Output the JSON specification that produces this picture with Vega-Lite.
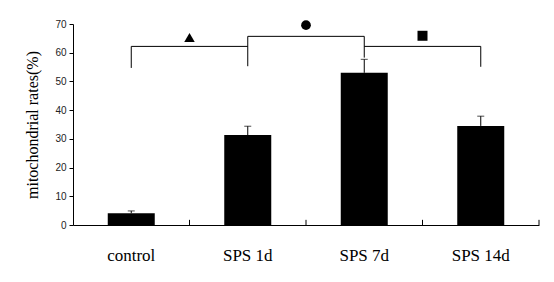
{
  "$schema": "https://vega.github.io/schema/vega-lite/v6.json",
  "width": 466,
  "height": 201,
  "autosize": "none",
  "padding": {"left": 73, "top": 24, "right": 15, "bottom": 57},
  "background": "white",
  "config": {
    "view": {"stroke": null},
    "axis": {"grid": false, "domainColor": "black", "tickColor": "black"},
    "axisX": {
      "labelFont": "Liberation Serif", "labelFontSize": 17, "labelColor": "black", "ticks": false,
      "labelPadding": 22, "labelAngle": 0, "labelBaseline": "top"
    },
    "axisY": {
      "titleFont": "Liberation Serif", "titleFontSize": 16, "titleFontWeight": "normal", "titleColor": "black",
      "titlePadding": 14, "labelFont": "Liberation Sans", "labelFontSize": 10, "labelColor": "#222",
      "labelPadding": 3, "tickSize": 4, "labelOverlap": false
    }
  },
  "datasets": {
    "bars": [
      {"group": "control", "value": 4.1, "upper": 4.9},
      {"group": "SPS 1d", "value": 31.3, "upper": 34.4},
      {"group": "SPS 7d", "value": 53.0, "upper": 57.7},
      {"group": "SPS 14d", "value": 34.5, "upper": 37.9}
    ],
    "hlines": [
      {"group": "control", "group2": "SPS 1d", "y": 62.2},
      {"group": "SPS 1d", "group2": "SPS 7d", "y": 65.7},
      {"group": "SPS 7d", "group2": "SPS 14d", "y": 62.2}
    ],
    "vlines": [
      {"group": "control", "y1": 62.2, "y2": 54.7},
      {"group": "SPS 1d", "y1": 65.7, "y2": 55.3},
      {"group": "SPS 7d", "y1": 65.7, "y2": 58.3},
      {"group": "SPS 14d", "y1": 62.2, "y2": 55.1}
    ],
    "symbols": [
      {"group": "SPS 1d", "y": 65.3, "shape": "triangle"},
      {"group": "SPS 7d", "y": 69.6, "shape": "circle"},
      {"group": "SPS 14d", "y": 65.9, "shape": "square"}
    ],
    "xticksLeft": [
      {"group": "SPS 1d", "y": 0, "y2": 1.8},
      {"group": "SPS 7d", "y": 0, "y2": 1.8},
      {"group": "SPS 14d", "y": 0, "y2": 1.8}
    ],
    "xticksRight": [
      {"group": "SPS 14d", "y": 0, "y2": 1.8}
    ]
  },
  "layer": [
    {
      "data": {"name": "bars"},
      "mark": {"type": "bar", "width": 47, "color": "black"},
      "encoding": {
        "x": {
          "field": "group", "type": "nominal",
          "scale": {"type": "band", "domain": ["control", "SPS 1d", "SPS 7d", "SPS 14d"], "paddingInner": 0, "paddingOuter": 0},
          "axis": {"title": null}
        },
        "y": {
          "field": "value", "type": "quantitative",
          "scale": {"domain": [0, 70], "nice": false},
          "axis": {"title": "mitochondrial rates(%)", "values": [0, 10, 20, 30, 40, 50, 60, 70], "tickCount": 8}
        }
      }
    },
    {
      "data": {"name": "xticksLeft"},
      "mark": {"type": "rule", "color": "black", "strokeWidth": 1},
      "encoding": {
        "x": {"field": "group", "type": "nominal", "bandPosition": 0},
        "y": {"field": "y", "type": "quantitative"},
        "y2": {"field": "y2"}
      }
    },
    {
      "data": {"name": "xticksRight"},
      "mark": {"type": "rule", "color": "black", "strokeWidth": 1},
      "encoding": {
        "x": {"field": "group", "type": "nominal", "bandPosition": 1},
        "y": {"field": "y", "type": "quantitative"},
        "y2": {"field": "y2"}
      }
    },
    {
      "data": {"name": "bars"},
      "mark": {"type": "rule", "color": "black", "strokeWidth": 1},
      "encoding": {
        "x": {"field": "group", "type": "nominal"},
        "y": {"field": "value", "type": "quantitative"},
        "y2": {"field": "upper"}
      }
    },
    {
      "data": {"name": "bars"},
      "mark": {"type": "tick", "orient": "horizontal", "size": 7, "thickness": 1, "color": "black"},
      "encoding": {
        "x": {"field": "group", "type": "nominal"},
        "y": {"field": "upper", "type": "quantitative"}
      }
    },
    {
      "data": {"name": "hlines"},
      "mark": {"type": "rule", "color": "black", "strokeWidth": 1},
      "encoding": {
        "x": {"field": "group", "type": "nominal"},
        "x2": {"field": "group2"},
        "y": {"field": "y", "type": "quantitative"}
      }
    },
    {
      "data": {"name": "vlines"},
      "mark": {"type": "rule", "color": "black", "strokeWidth": 1},
      "encoding": {
        "x": {"field": "group", "type": "nominal"},
        "y": {"field": "y1", "type": "quantitative"},
        "y2": {"field": "y2"}
      }
    },
    {
      "data": {"name": "symbols"},
      "mark": {"type": "point", "filled": true, "opacity": 1, "color": "black"},
      "encoding": {
        "x": {"field": "group", "type": "nominal", "bandPosition": 0},
        "y": {"field": "y", "type": "quantitative"},
        "shape": {"field": "shape", "type": "nominal", "legend": null,
          "scale": {"domain": ["triangle", "circle", "square"], "range": ["triangle-up", "circle", "square"]}},
        "size": {"field": "shape", "type": "nominal", "legend": null,
          "scale": {"type": "ordinal", "domain": ["triangle", "circle", "square"], "range": [110, 95, 100]}}
      }
    }
  ]
}
